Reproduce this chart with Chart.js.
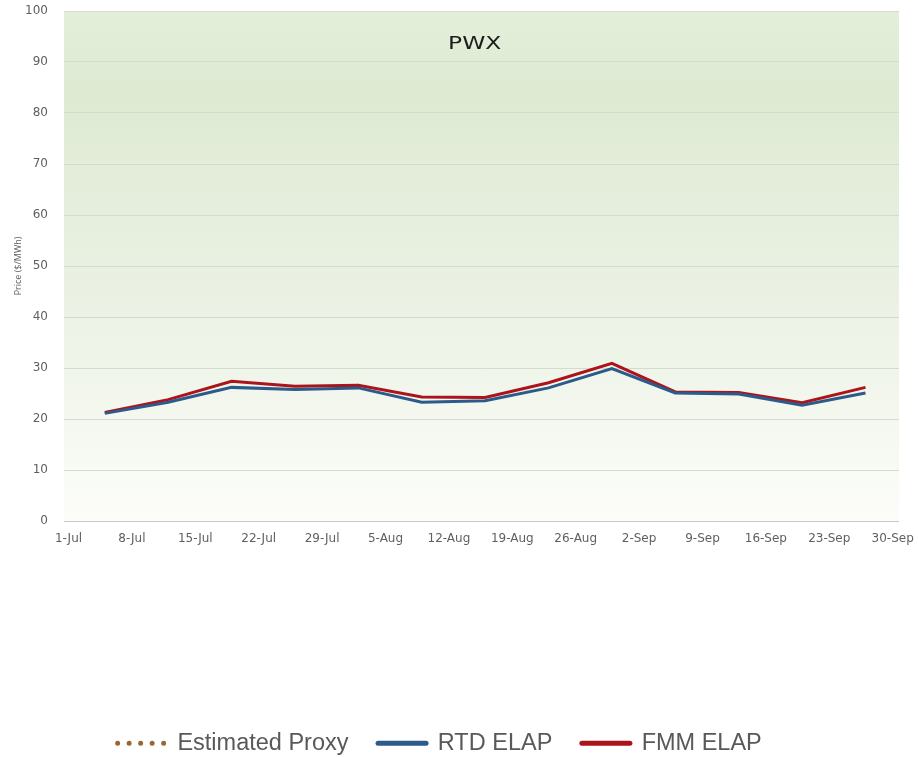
<!DOCTYPE html>
<html><head><meta charset="utf-8">
<script src="https://cdn.jsdelivr.net/npm/chart.js@4.4.1/dist/chart.umd.min.js"></script>
<style>html,body{margin:0;padding:0;background:#fff;}#wrap{position:relative;width:918px;height:757px;}</style>
</head><body><div id="wrap"><canvas id="c"></canvas></div>
<script>
const chartTitle = 'PWX';
const yAxisTitle = 'Price ($/MWh)';
const seriesNames = ['Estimated Proxy', 'RTD ELAP', 'FMM ELAP'];
const xTickLabels = ['1-Jul','8-Jul','15-Jul','22-Jul','29-Jul','5-Aug','12-Aug','19-Aug','26-Aug','2-Sep','9-Sep','16-Sep','23-Sep','30-Sep'];
const weekDates = ['5-Jul','12-Jul','19-Jul','26-Jul','2-Aug','9-Aug','16-Aug','23-Aug','30-Aug','6-Sep','13-Sep','20-Sep','27-Sep'];
const rtdElap = [21.1, 23.3, 26.2, 25.8, 26.1, 23.3, 23.6, 26.1, 29.9, 25.1, 24.9, 22.7, 25.1];
const fmmElap = [21.3, 23.8, 27.4, 26.4, 26.6, 24.3, 24.2, 27.1, 30.9, 25.3, 25.2, 23.2, 26.2];
const estimatedProxy = [];
const yTicks = [0,10,20,30,40,50,60,70,80,90,100];

const monthStart = { Jul: 0, Aug: 31, Sep: 62 };
function toDay(s) { const [d, m] = s.split('-'); return monthStart[m] + Number(d) - 1; }
const tickDays = xTickLabels.map(toDay);
const toPoints = vals => vals.map((v, i) => ({ x: toDay(weekDates[i]), y: v }));

const plotBg = {
  id: 'plotBg',
  beforeDraw(chart) {
    const { ctx, chartArea: a } = chart;
    const g = ctx.createLinearGradient(0, a.top, 0, a.bottom);
    g.addColorStop(0, '#e3efda');
    g.addColorStop(0.15, '#deead2');
    g.addColorStop(0.55, '#eaf1e3');
    g.addColorStop(1, '#fcfdf9');
    ctx.save();
    ctx.fillStyle = g;
    ctx.fillRect(a.left, a.top, a.right - a.left, a.bottom - a.top);
    ctx.restore();
  }
};
const innerTitle = {
  id: 'innerTitle',
  afterDraw(chart) {
    const { ctx, chartArea: a } = chart;
    ctx.save();
    ctx.translate(a.left + (a.right - a.left) * 0.46, a.top + 38);
    ctx.scale(1.3, 1);
    ctx.font = '18px "DejaVu Sans"';
    ctx.fillStyle = '#1c1c1c';
    ctx.textAlign = 'left';
    ctx.textBaseline = 'alphabetic';
    ctx.fillText(chartTitle, 0, 0);
    ctx.restore();
  }
};

new Chart(document.getElementById('c'), {
  type: 'line',
  data: {
    datasets: [
      { label: seriesNames[0], data: toPoints(estimatedProxy), borderColor: '#9b6634', backgroundColor: '#9b6634', borderWidth: 3, borderDash: [0, 11.5], pointRadius: 0 },
      { label: seriesNames[1], data: toPoints(rtdElap), borderColor: '#2c5a8b', backgroundColor: '#2c5a8b', borderWidth: 3, pointRadius: 0, tension: 0 },
      { label: seriesNames[2], data: toPoints(fmmElap), borderColor: '#ac141b', backgroundColor: '#ac141b', borderWidth: 3, pointRadius: 0, tension: 0 }
    ]
  },
  options: {
    responsive: true,
    maintainAspectRatio: false,
    animation: false,
    layout: { padding: { top: 11, right: 19, left: 0, bottom: -8 } },
    scales: {
      x: {
        type: 'linear',
        min: toDay(xTickLabels[0]) - 0.5,
        max: toDay(xTickLabels[xTickLabels.length - 1]) + 0.7,
        afterBuildTicks(scale) { scale.ticks = tickDays.map(v => ({ value: v })); },
        afterFit(scale) { scale.height = scale.chart.height - 521 - scale.chart.legend.height + 8; },
        grid: { display: false, drawTicks: true, tickLength: 11, tickColor: 'rgba(0,0,0,0)' },
        border: { display: false },
        ticks: {
          autoSkip: false, maxRotation: 0, padding: 0,
          color: '#5f5f5f', font: { family: '"DejaVu Sans"', size: 12 },
          callback: (v, i) => xTickLabels[i]
        }
      },
      y: {
        min: 0, max: 100,
        afterBuildTicks(scale) { scale.ticks = yTicks.map(v => ({ value: v })); },
        afterFit(scale) { scale.width = 64; },
        grid: { drawTicks: true, tickLength: 16, tickColor: 'rgba(0,0,0,0)', color: c => (c.tick && c.tick.value === 0) ? '#c9c9c9' : '#d3dbcd', lineWidth: 1 },
        border: { display: false },
        ticks: { padding: 0, color: '#5f5f5f', font: { family: '"DejaVu Sans"', size: 12 } },
        title: { display: true, text: yAxisTitle, color: '#5f5f5f', font: { family: '"Open Sans"', size: 9 }, padding: { top: 13, bottom: 0 } }
      }
    },
    plugins: {
      tooltip: { enabled: false },
      legend: {
        position: 'bottom',
        labels: {
          usePointStyle: true, pointStyle: 'line', pointStyleWidth: 48, boxHeight: 5,
          padding: 10, color: '#595959',
          font: { family: '"Liberation Sans", Arial', size: 23.5 },
          generateLabels(chart) {
            const items = Chart.defaults.plugins.legend.labels.generateLabels(chart);
            items.forEach(it => {
              const ds = chart.data.datasets[it.datasetIndex];
              it.lineWidth = 5;
              it.lineCap = 'round';
              it.lineDash = ds.borderDash || [];
              it.pointStyle = 'line';
              it.text = it.text + '   ';
            });
            return items;
          }
        }
      }
    }
  },
  plugins: [plotBg, innerTitle]
});
</script></body></html>
